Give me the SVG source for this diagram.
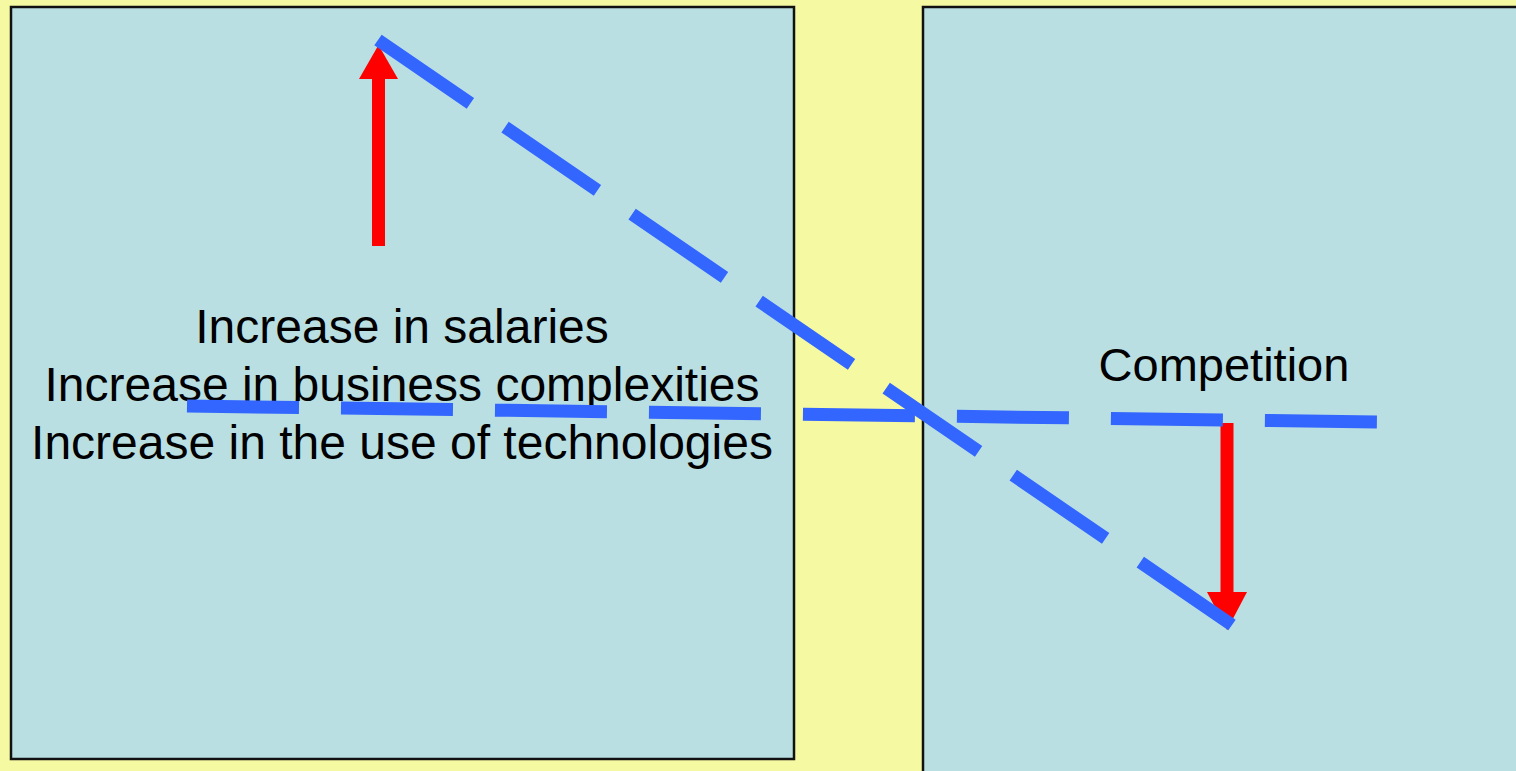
<svg xmlns="http://www.w3.org/2000/svg" width="1516" height="771" viewBox="0 0 1516 771">
  <style>
    .panel { fill: #B9DFE2; stroke: #111111; stroke-width: 2.5; }
    .label { font-family: "Liberation Sans", Arial, sans-serif; font-size: 48px; fill: #000000; text-anchor: middle; }
    .trend { fill: none; stroke: #3366FF; stroke-width: 13; stroke-dasharray: 112 42; stroke-linecap: butt; }
    .arrow { fill: #FF0000; }
  </style>

  <!-- background -->
  <rect x="0" y="0" width="1516" height="771" fill="#F5F9A2"/>

  <!-- left panel: cost drivers -->
  <g id="node-costs">
    <rect class="panel" x="11" y="7" width="783" height="752"/>
    <text class="label" x="402" y="343">Increase in salaries</text>
    <text class="label" x="402" y="401">Increase in business complexities</text>
    <text class="label" x="402" y="459">Increase in the use of technologies</text>
  </g>

  <!-- right panel: competition -->
  <g id="node-competition">
    <rect class="panel" x="923" y="7" width="610" height="780"/>
    <text class="label" x="1224" y="381" style="font-size:47px">Competition</text>
  </g>

  <!-- arrows and dashed trend lines -->
  <g id="connectors">
    <g id="arrow-up">
      <rect class="arrow" x="372" y="78" width="13" height="168"/>
      <polygon class="arrow" points="359,79 398,79 378.5,45"/>
    </g>
    <g id="arrow-down">
      <rect class="arrow" x="1220.5" y="423" width="13" height="170"/>
      <polygon class="arrow" points="1207,592 1247,592 1227,630"/>
    </g>
    <line class="trend" x1="187" y1="406" x2="1377" y2="422"/>
    <line class="trend" x1="378" y1="40" x2="1232" y2="625"/>
  </g>
</svg>
